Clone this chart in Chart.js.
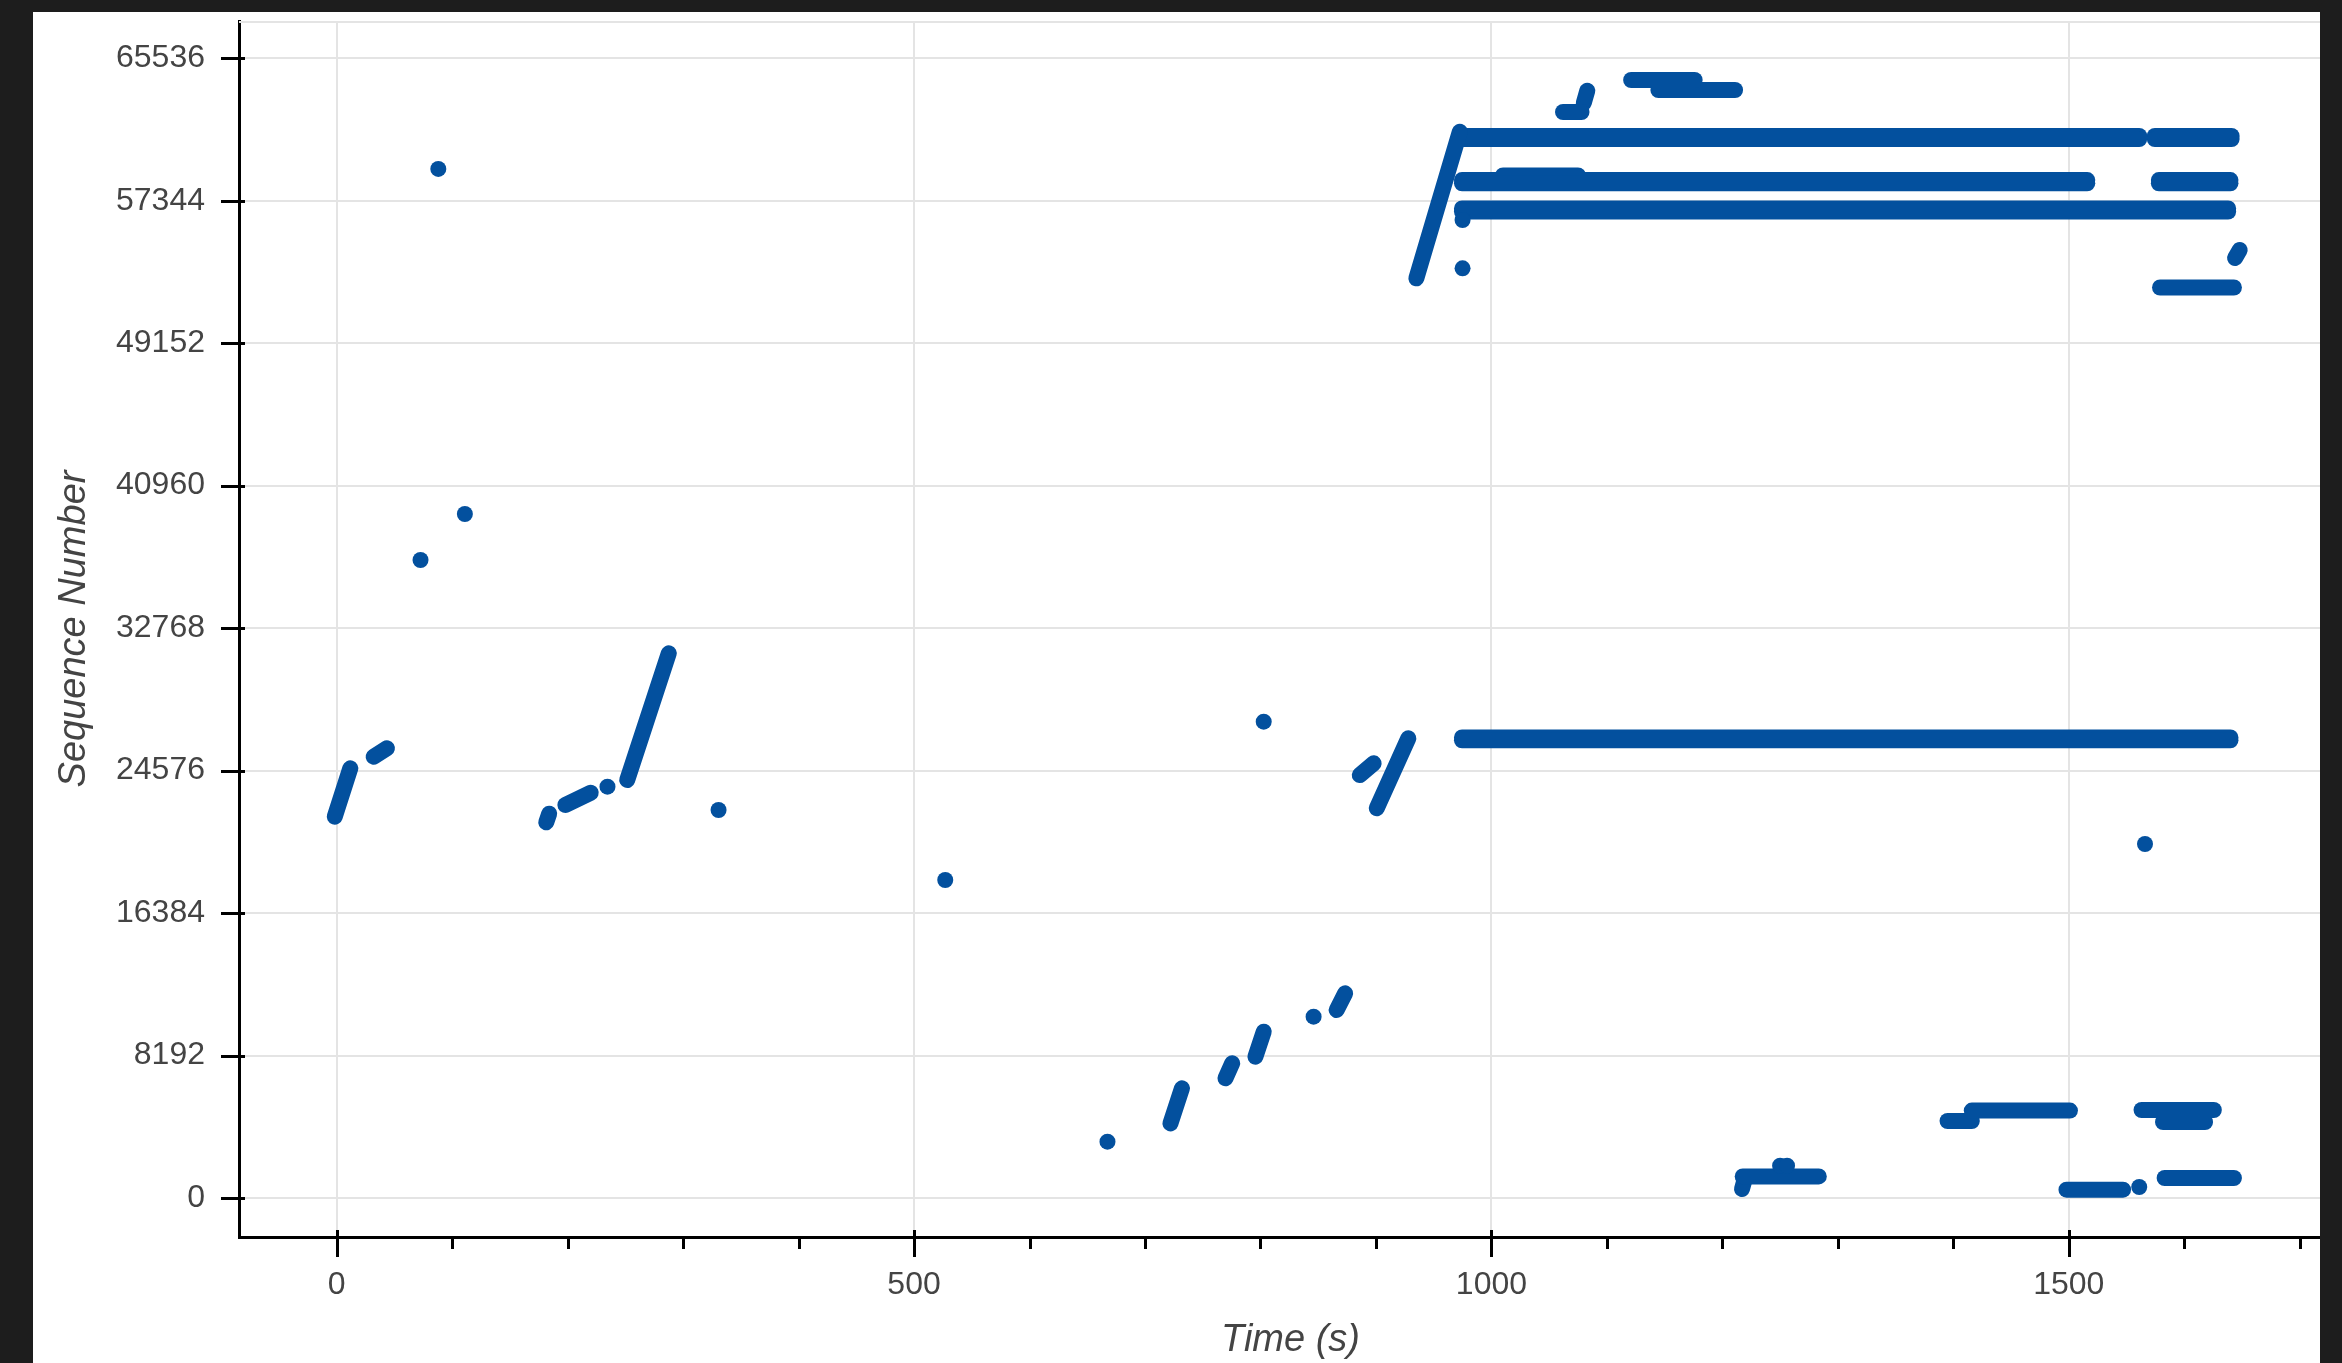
<!DOCTYPE html>
<html>
<head>
<meta charset="utf-8">
<script src="https://cdn.jsdelivr.net/npm/chart.js@4.4.1/dist/chart.umd.min.js"></script>
<style>
html,body{margin:0;padding:0;width:2342px;height:1363px;overflow:hidden;background:#1d1d1d;}
#panel{position:absolute;left:33px;top:12px;width:2287px;height:1351px;background:#fff;overflow:hidden;}
#c{position:absolute;left:0;top:0;}
</style>
</head>
<body>
<div id="panel"><canvas id="c" width="2317" height="1351"></canvas></div>
<script>
// ---- data ----
const xMinorTicks = [0,100,200,300,400,500,600,700,800,900,1000,1100,1200,1300,1400,1500,1600,1700];
const xMajorTicks = [0,500,1000,1500];
const yTicks = [0,8192,16384,24576,32768,40960,49152,57344,65536];

// isolated packets
const dotTime = [72.6, 88, 111, 234.5, 330.7, 527, 667.5, 802.8, 846, 975, 975, 1250, 1256, 1561, 1566];
const dotSeq  = [36685, 59170, 39330, 23650, 22310, 18285, 3237, 27390, 10425, 53457, 56235, 1857, 1857, 632, 20355];

// dense runs of packets (start / end of each run)
const runTime = [
  [-1.7, 11.8], [32, 43.5], [181.5, 184], [198, 220], [251.6, 287.6],
  [722, 732], [769.7, 775.5], [795.6, 802.8], [866, 873.3], [886, 898], [900.7, 928],
  [935, 972.6],
  [974.5, 1640], [974.5, 1640],
  [976, 1561], [976, 1561], [1574.5, 1641], [1574.5, 1641],
  [974.5, 1516], [974.5, 1516], [1578, 1640], [1578, 1640], [1010, 1075],
  [974.5, 1638], [974.5, 1638],
  [1644, 1648], [1579, 1643],
  [1062, 1078], [1080, 1083],
  [1121, 1176], [1144.6, 1211],
  [1217.6, 1283.5], [1217, 1219],
  [1416, 1501], [1395, 1416],
  [1563, 1625.6], [1581.6, 1618],
  [1498, 1547], [1583, 1643]
];
const runSeq = [
  [21925, 24708], [25375, 25860], [21600, 22100], [22600, 23300], [24035, 31320],
  [4290, 6307], [6883, 7745], [8125, 9562], [10810, 11770], [24320, 24995], [22410, 26430],
  [52880, 61315],
  [26320, 26320], [26480, 26480],
  [60890, 60890], [61070, 61070], [60890, 60890], [61070, 61070],
  [58350, 58350], [58530, 58530], [58350, 58350], [58530, 58530], [58800, 58800],
  [56720, 56720], [56900, 56900],
  [54050, 54510], [52354, 52354],
  [62445, 62445], [62970, 63670],
  [64285, 64285], [63710, 63710],
  [1242, 1242], [517, 1000],
  [5025, 5025], [4428, 4428],
  [5060, 5060], [4370, 4370],
  [480, 480], [1150, 1150]
];

// ---- styling ----
const BLUE = '#03509e';
const GRID = '#e4e4e4';
const TEXT = '#444444';
const FONT = "'Liberation Sans', Arial, sans-serif";

const datasets = [{
  data: dotTime.map((t, i) => ({x: t, y: dotSeq[i]})),
  pointRadius: 8,
  pointBackgroundColor: BLUE,
  pointBorderWidth: 0,
  showLine: false
}];
runTime.forEach((tt, i) => {
  datasets.push({
    data: [{x: tt[0], y: runSeq[i][0]}, {x: tt[1], y: runSeq[i][1]}],
    showLine: true,
    borderColor: BLUE,
    borderWidth: 16,
    borderCapStyle: 'round',
    borderJoinStyle: 'round',
    pointRadius: 0,
    pointHoverRadius: 0,
    tension: 0
  });
});

const axisTicks = {
  id: 'axisTicks',
  beforeDatasetsDraw(chart) {
    const {ctx, chartArea: a} = chart;
    ctx.save();
    ctx.strokeStyle = GRID;
    ctx.lineWidth = 2;
    ctx.beginPath();
    ctx.moveTo(a.left, a.top + 1);
    ctx.lineTo(a.right, a.top + 1);
    ctx.stroke();
    ctx.restore();
  },
  afterDraw(chart) {
    const {ctx, chartArea: a, scales} = chart;
    ctx.save();
    ctx.strokeStyle = '#000';
    ctx.lineWidth = 3;
    xMinorTicks.forEach(v => {
      const px = Math.round(scales.x.getPixelForValue(v)) + 0.5;
      const major = xMajorTicks.includes(v);
      ctx.beginPath();
      ctx.moveTo(px, a.bottom - (major ? 7 : 0));
      ctx.lineTo(px, a.bottom + (major ? 20 : 12));
      ctx.stroke();
    });
    yTicks.forEach(v => {
      const py = Math.round(scales.y.getPixelForValue(v)) + 0.5;
      ctx.beginPath();
      ctx.moveTo(a.left - 18, py);
      ctx.lineTo(a.left + 6, py);
      ctx.stroke();
    });
    ctx.restore();
  }
};

new Chart(document.getElementById('c'), {
  type: 'scatter',
  data: {datasets},
  plugins: [axisTicks],
  options: {
    responsive: false,
    animation: false,
    events: [],
    layout: {padding: {left: 0, top: 9, right: 2, bottom: 0}},
    plugins: {legend: {display: false}, tooltip: {enabled: false}},
    scales: {
      x: {
        type: 'linear',
        min: -84.6,
        max: 1736.6,
        afterFit: s => { s.height = 126; s.paddingLeft = 0; s.paddingRight = 0; },
        afterBuildTicks: s => { s.ticks = xMajorTicks.map(v => ({value: v})); },
        grid: {color: GRID, lineWidth: 2, drawTicks: false},
        border: {display: true, color: '#000', width: 3},
        ticks: {color: TEXT, font: {family: FONT, size: 32}, padding: 29, maxRotation: 0, autoSkip: false,
                callback: v => String(v)},
        title: {display: true, text: 'Time (s)', color: TEXT, font: {family: FONT, size: 38, style: 'italic'}, padding: {top: 0, bottom: 0}}
      },
      y: {
        type: 'linear',
        min: -2243,
        max: 67678,
        afterFit: s => { s.width = 206; s.paddingTop = 0; s.paddingBottom = 0; },
        afterBuildTicks: s => { s.ticks = yTicks.map(v => ({value: v})); },
        grid: {color: GRID, lineWidth: 2, drawTicks: false},
        border: {display: true, color: '#000', width: 3},
        ticks: {color: TEXT, font: {family: FONT, size: 32}, padding: 34, autoSkip: false,
                callback: v => String(v)},
        title: {display: true, text: 'Sequence Number', color: TEXT, font: {family: FONT, size: 38, style: 'italic'}, padding: {top: 19, bottom: 0}}
      }
    }
  }
});
</script>
</body>
</html>
